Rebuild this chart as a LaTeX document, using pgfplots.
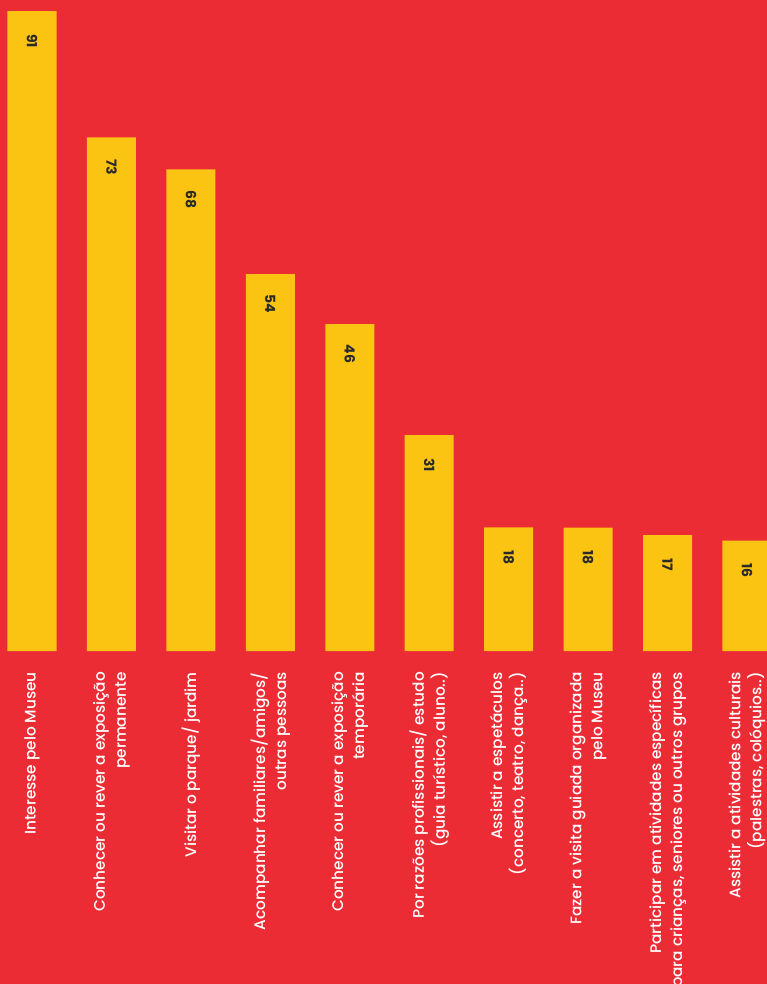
\documentclass[border=0pt]{standalone}
\usepackage{pgfplots}
\pgfplotsset{compat=1.18}
\usepackage{fontspec}
\setmainfont{Poppins}
\newfontfamily\medfont{Poppins}[UprightFont={* Medium}]
\definecolor{bgred}{HTML}{EB2C35}
\definecolor{baryel}{HTML}{FBC312}
\definecolor{valtxt}{HTML}{2A2A2A}
\begin{document}
\begin{tikzpicture}
\fill[bgred] (0,-333pt) rectangle (767pt,651pt);
\begin{axis}[at={(0,0)}, anchor=south west, scale only axis,
  width=767pt, height=651pt,
  xmin=-0.4028, xmax=9.252, ymin=0, ymax=92.6,
  axis x line*=bottom, axis y line*=left, axis line style={draw=none},
  ytick=\empty, xtick={0,...,9}, major tick length=0pt,
  xticklabels={{Interesse pelo Museu},
    {Conhecer ou rever a exposição\\permanente},
    {Visitar o parque/ jardim},
    {Acompanhar familiares/amigos/\\outras pessoas},
    {Conhecer ou rever a exposição\\temporária},
    {Por razões profissionais/ estudo\\(guia turístico, aluno..)},
    {Assistir a espetáculos\\(concerto, teatro, dança..)},
    {Fazer a visita guiada organizada\\pelo Museu},
    {Participar em atividades específicas\\para crianças, seniores ou outros grupos},
    {Assistir a atividades culturais\\(palestras, colóquios..)}},
  xticklabel style={rotate=90, anchor=east, align=right, inner sep=0pt, text=white,
    font=\medfont\fontsize{15.3}{21}\selectfont},
  xticklabel shift=21pt,
  ybar, bar width=49pt,
  point meta=explicit symbolic,
  nodes near coords,
  nodes near coords style={font=\fontsize{14}{14}\selectfont\bfseries, text=valtxt,
    anchor=center, yshift=-30pt, rotate=-90},
]
\addplot[fill=baryel, draw=none] coordinates {(0,91)[91] (1,73.07)[73] (2,68.5)[68] (3,53.6)[54] (4,46.5)[46] (5,30.7)[31] (6,17.6)[18] (7,17.55)[18] (8,16.5)[17] (9,15.7)[16]};
\end{axis}
\pgfresetboundingbox
\path[use as bounding box] (0,-333pt) rectangle (767pt,651pt);
\end{tikzpicture}
\end{document}
